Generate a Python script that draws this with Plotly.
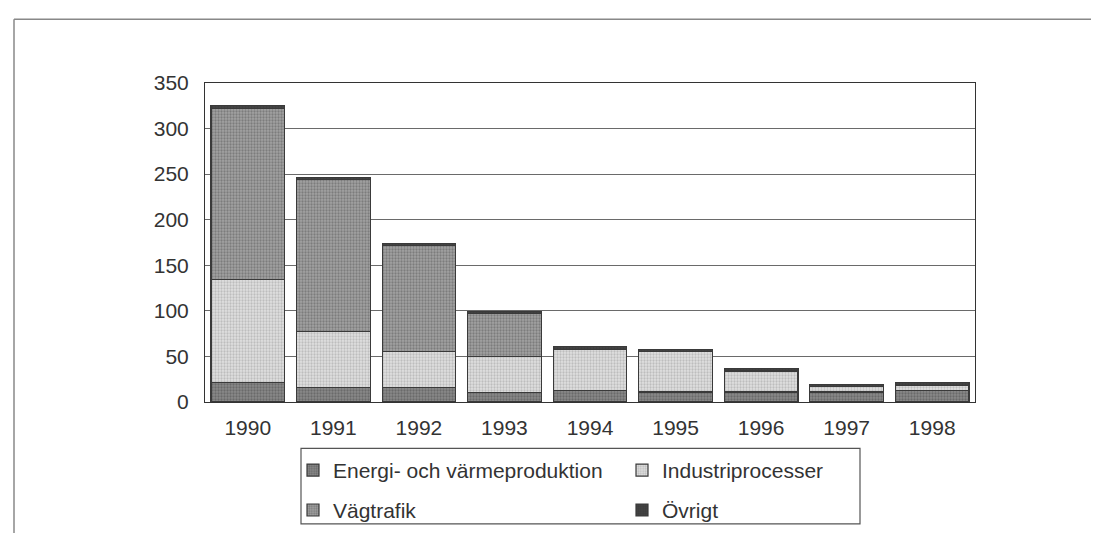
import plotly.graph_objects as go

years = ["1990", "1991", "1992", "1993", "1994", "1995", "1996", "1997", "1998"]
energi = [21, 16, 16, 10, 13, 11, 11, 11, 13]
industri = [113, 61.5, 39, 40, 45, 44, 23, 6, 5.5]
vagtrafik = [188, 166.5, 116.5, 47, 0, 0, 0, 0, 0]
ovrigt = [3.5, 2.7, 2.6, 2.5, 3, 2.5, 2.5, 2.5, 2.5]

y_ticks = [0, 50, 100, 150, 200, 250, 300, 350]

FONT = "Liberation Sans, Arial, sans-serif"
TXT = "#333333"

W, H = 1099, 533
L, R, T, B = 197, 132, 75, 137.5
PW = W - L - R
PH = H - T - B


def px(x):
    return (x - L) / PW


def py(y):
    return (H - B - y) / PH


series = [
    ("Energi- och värmeproduktion", energi, "#8a8a8a", "#4a4a4a", "legend"),
    ("Industriprocesser", industri, "#e0e0e0", "#9a9a9a", "legend"),
    ("Vägtrafik", vagtrafik, "#a2a2a2", "#565656", "legend2"),
    ("Övrigt", ovrigt, "#444444", "#333333", "legend2"),
]

fig = go.Figure()
for name, vals, bg, fg, lg in series:
    fig.add_trace(go.Bar(
        x=years, y=vals, name=name, legend=lg,
        marker=dict(
            color=bg,
            line=dict(color="#3a3a3a", width=1.2),
            pattern=dict(shape=".", fgcolor=fg, bgcolor=bg, size=3, solidity=0.45),
        ),
    ))

legend_common = dict(
    orientation="h", xanchor="left", yanchor="middle",
    font=dict(family=FONT, size=21, color=TXT),
    bgcolor="rgba(0,0,0,0)", borderwidth=0,
    entrywidthmode="pixels", entrywidth=284, traceorder="normal",
)

fig.update_layout(
    width=W, height=H,
    margin=dict(l=L, r=R, t=T, b=B, pad=0),
    paper_bgcolor="white", plot_bgcolor="white",
    barmode="stack", bargap=0.14,
    showlegend=True,
    legend=dict(x=px(285), y=py(463), **legend_common),
    legend2=dict(x=px(285), y=py(503), **legend_common),
    font=dict(family=FONT, size=21, color=TXT),
    xaxis=dict(
        type="category", showgrid=False, ticks="", showline=True,
        linecolor="#333333", linewidth=1, mirror=True,
        tickfont=dict(family=FONT, size=21, color=TXT),
        ticklabelstandoff=7,
    ),
    yaxis=dict(
        range=[0, 350], tickvals=y_ticks, showgrid=True,
        gridcolor="#6a6a6a", gridwidth=1, ticks="", showline=True,
        linecolor="#333333", linewidth=1, mirror=True, zeroline=False,
        tickfont=dict(family=FONT, size=21, color=TXT),
        ticklabelstandoff=11,
    ),
    shapes=[
        # outer frame (top and left)
        dict(type="line", xref="paper", yref="paper", x0=px(6), x1=px(1099), y0=py(11), y1=py(11),
             line=dict(color="#888888", width=1.5)),
        dict(type="line", xref="paper", yref="paper", x0=px(6), x1=px(6), y0=py(11), y1=py(533),
             line=dict(color="#888888", width=1.5)),
        # legend box
        dict(type="rect", xref="paper", yref="paper", x0=px(293), x1=px(852), y0=py(442), y1=py(518),
             line=dict(color="#555555", width=1.2), fillcolor="rgba(0,0,0,0)"),
    ],
)

fig.write_html("out.html")
